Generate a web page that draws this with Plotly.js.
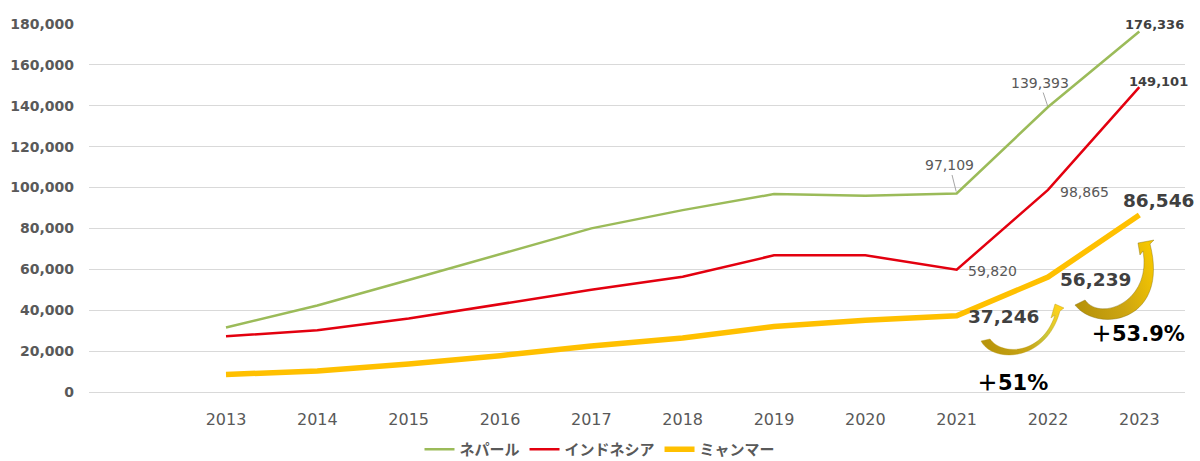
<!DOCTYPE html>
<html>
<head>
<meta charset="utf-8">
<script src="https://cdn.plot.ly/plotly-3.0.1.min.js"></script>
<style>
  html, body { margin: 0; padding: 0; background: #fff; }
  #plot { width: 1200px; height: 461px; }
</style>
</head>
<body>
<div id="plot"></div>
<script>
const years = [2013, 2014, 2015, 2016, 2017, 2018, 2019, 2020, 2021, 2022, 2023];
const nepal = [31537, 42346, 54775, 67470, 80038, 88951, 96824, 95982, 97109, 139393, 176336];
const indonesia = [27214, 30210, 35910, 42850, 49982, 56346, 66860, 66832, 59820, 98865, 149101];
const myanmar = [8600, 10252, 13737, 17775, 22519, 26456, 32049, 35049, 37246, 56239, 86546];
const seriesNames = ['ネパール', 'インドネシア', 'ミャンマー'];
const yTicks = [0, 20000, 40000, 60000, 80000, 100000, 120000, 140000, 160000, 180000];
const growthLabels = ['＋51%', '＋53.9%'];

const numFont = 'DejaVu Sans, Verdana, sans-serif';
const jpFont = 'Noto Sans CJK JP, sans-serif';
const fmt = v => v.toLocaleString('en-US');

// plot area in pixels, used only to place the decorative curved arrows
const M = {l: 89, r: 15, t: 24, b: 69};
const W = 1200 - M.l - M.r, H = 461 - M.t - M.b;
function p(x, y) {
	return ((x - M.l) / W).toFixed(4) + ' ' + ((M.t + H - y) / H).toFixed(4);
}

const traces = [
	{x: years, y: nepal, name: seriesNames[0], mode: 'lines', line: {color: '#9BBB59', width: 2.5}},
	{x: years, y: indonesia, name: seriesNames[1], mode: 'lines', line: {color: '#E3000F', width: 2.5}},
	{x: years, y: myanmar, name: seriesNames[2], mode: 'lines', line: {color: '#FFC000', width: 5.5}}
];

const last = years.length - 1;
function label(x, y, opts) {
	return Object.assign({
		x: x, y: y, xref: 'x', yref: 'y', text: fmt(y), showarrow: false,
		font: {family: numFont, size: 14, color: '#595959'}
	}, opts);
}
// full-width plus comes from the CJK font, the rest stays in the number font
function growth(txt) {
	return '<span style="font-family:Noto Sans CJK JP">' + txt.charAt(0) + '</span>' + txt.slice(1);
}

const bold13 = {family: numFont, size: 13, color: '#404040', weight: 'bold'};
const bold18 = {family: numFont, size: 18.5, color: '#404040', weight: 'bold'};
const annotations = [
	label(years[last - 2], nepal[last - 2], {showarrow: true, arrowhead: 0, arrowwidth: 1,
		arrowcolor: '#A6A6A6', ax: -7, ay: -28, standoff: 2}),
	label(years[last - 1], nepal[last - 1], {showarrow: true, arrowhead: 0, arrowwidth: 1,
		arrowcolor: '#A6A6A6', ax: -8, ay: -24, standoff: 1}),
	label(years[last], nepal[last], {xshift: 15, yshift: 7, font: bold13}),
	label(years[last], indonesia[last], {xshift: 19, yshift: 6, font: bold13}),
	label(years[last - 1], indonesia[last - 1], {xshift: 36, yshift: -2}),
	label(years[last - 2], indonesia[last - 2], {xshift: 36, yshift: -1}),
	label(years[last], myanmar[last], {xshift: 19, yshift: 15, font: bold18}),
	label(years[last - 1], myanmar[last - 1], {xshift: 47, yshift: -2, font: bold18}),
	label(years[last - 2], myanmar[last - 2], {xshift: 47, yshift: -1, font: bold18}),
	{x: 2021.61, y: 5400, xref: 'x', yref: 'y', text: growth(growthLabels[0]), showarrow: false,
		font: {family: numFont, size: 21, color: '#000', weight: 'bold'}},
	{x: 2022.99, y: 29300, xref: 'x', yref: 'y', text: growth(growthLabels[1]), showarrow: false,
		font: {family: numFont, size: 21, color: '#000', weight: 'bold'}}
];

// curved growth arrows (decoration): tail, outer curve, head, inner curve
const arrow1 = 'M ' + p(981, 341) +
	' C ' + p(992, 363) + ' ' + p(1046, 363) + ' ' + p(1060, 311) +
	' L ' + p(1064, 308) + ' L ' + p(1055, 304) + ' L ' + p(1051, 318) + ' L ' + p(1055, 315) +
	' C ' + p(1042, 355) + ' ' + p(1002, 356) + ' ' + p(990, 339) + ' Z';
const arrow2 = 'M ' + p(1075, 305) +
	' C ' + p(1098, 334) + ' ' + p(1170, 322) + ' ' + p(1150, 244) +
	' L ' + p(1154, 240) + ' L ' + p(1138, 243) + ' L ' + p(1140, 255) + ' L ' + p(1143, 251) +
	' C ' + p(1152, 302) + ' ' + p(1100, 322) + ' ' + p(1085, 300) + ' Z';
const shapes = [
	{type: 'path', xref: 'paper', yref: 'paper', path: arrow1,
		fillcolor: '#D9B412', line: {color: '#B8960A', width: 0.4}},
	{type: 'path', xref: 'paper', yref: 'paper', path: arrow2,
		fillcolor: '#D2A915', line: {color: '#7F6A10', width: 0.4}}
];

const layout = {
	width: 1200,
	height: 461,
	margin: M,
	paper_bgcolor: '#fff',
	plot_bgcolor: '#fff',
	showlegend: true,
	hovermode: false,
	xaxis: {
		range: [2011.5, 2023.5],
		tickvals: years,
		ticktext: years.map(String),
		showgrid: false,
		zeroline: false,
		showline: false,
		ticks: '',
		ticklabelstandoff: 16,
		tickfont: {family: numFont, size: 16, color: '#595959'}
	},
	yaxis: {
		range: [0, 180000],
		tickvals: yTicks,
		ticktext: yTicks.map(fmt),
		showgrid: true,
		gridcolor: '#D9D9D9',
		gridwidth: 1,
		zeroline: true,
		zerolinecolor: '#D9D9D9',
		zerolinewidth: 1,
		showline: false,
		ticks: '',
		ticklabelstandoff: 14,
		tickfont: {family: numFont, size: 14, color: '#595959', weight: 'bold'}
	},
	legend: {
		orientation: 'h',
		xref: 'container', yref: 'container',
		x: 0.5, xanchor: 'center',
		y: 0.025, yanchor: 'middle',
		itemwidth: 30,
		font: {family: jpFont, size: 15, color: '#595959', weight: 'bold'}
	},
	annotations: annotations,
	shapes: shapes
};

// gold-to-yellow gradients for the two arrows, added into the svg after drawing
function addGradients(gd) {
	const ns = 'http://www.w3.org/2000/svg';
	const defs = gd.querySelector('svg.main-svg defs');
	const grads = [
		['arrowGrad1', [[0, '#B8950C'], [0.45, '#C9A514'], [0.7, '#C8C63A'], [1, '#FFD21A']]],
		['arrowGrad2', [[0, '#B8940A'], [0.5, '#CDA512'], [1, '#F5C600']]]
	];
	grads.forEach(function (g) {
		const lg = document.createElementNS(ns, 'linearGradient');
		lg.setAttribute('id', g[0]);
		lg.setAttribute('x1', '0'); lg.setAttribute('y1', '0.6');
		lg.setAttribute('x2', '1'); lg.setAttribute('y2', '0.3');
		g[1].forEach(function (s) {
			const stop = document.createElementNS(ns, 'stop');
			stop.setAttribute('offset', s[0]);
			stop.setAttribute('stop-color', s[1]);
			lg.appendChild(stop);
		});
		defs.appendChild(lg);
	});
	const paths = gd.querySelectorAll('.shapelayer path');
	paths.forEach(function (el, i) {
		if (i < grads.length) el.style.fill = 'url(#' + grads[i][0] + ')';
	});
}

Plotly.newPlot('plot', traces, layout, {displayModeBar: false, staticPlot: true})
	.then(addGradients);
</script>
</body>
</html>
